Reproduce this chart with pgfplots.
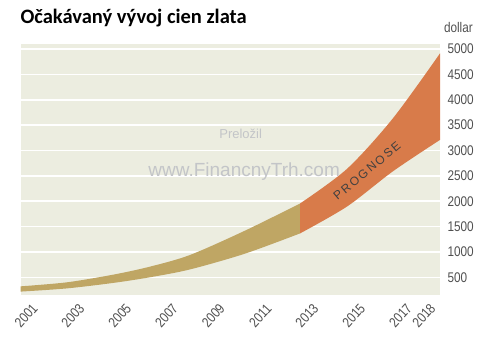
\documentclass[border=0pt]{standalone}
\usepackage{pgfplots}
\pgfplotsset{compat=1.18}
\usepgfplotslibrary{fillbetween}
\usepackage{fontspec}
\setmainfont{Liberation Sans}
\newfontfamily\titlefont{Carlito}
\newfontfamily\tickfont[FakeStretch=0.84]{Liberation Sans}
\definecolor{bgc}{RGB}{236,237,224}
\definecolor{goldc}{RGB}{191,166,100}
\definecolor{orangec}{RGB}{216,123,74}
\definecolor{tickc}{RGB}{80,80,80}
\definecolor{wmc}{RGB}{195,197,200}
\begin{document}
\begin{tikzpicture}
\node[anchor=west,font=\titlefont\bfseries\fontsize{20.5}{22}\selectfont] at (17pt,342pt) {Očakávaný vývoj cien zlata};
\node[anchor=east,font=\tickfont\fontsize{14}{16}\selectfont,text=tickc,inner sep=0pt] at (473pt,333pt) {dollar};
\begin{axis}[
  at={(20.7pt,65pt)}, anchor=south west,
  scale only axis, width=419.3pt, height=251pt,
  xmin=2000.3, xmax=2018.22, ymin=150, ymax=5100,
  axis line style={draw=none},
  axis background/.style={fill=bgc},
  major tick length=0pt,
  xtick={2001,2003,2005,2007,2009,2011,2013,2015,2017,2018},
  xticklabels={2001,2003,2005,2007,2009,2011,2013,2015,2017,2018},
  ytick={500,1000,1500,2000,2500,3000,3500,4000,4500,5000},
  yticklabels={500,1000,1500,2000,2500,3000,3500,4000,4500,5000},
  yticklabel pos=right,
  ymajorgrids, grid style={white,line width=1.5pt},
  x tick label style={font=\tickfont\fontsize{14}{16}\selectfont,text=tickc,xshift=-6pt,yshift=-6pt,rotate=48,anchor=north east,inner sep=1pt},
  y tick label style={font=\tickfont\fontsize{14}{16}\selectfont,text=tickc,anchor=west,xshift=4pt},
  clip=true,
]
\addplot[name path=gu, draw=none, smooth] coordinates {(2000.3,321)(2002.27,400)(2004.25,551)(2005.83,710)(2007.54,940)(2009.89,1420)(2012.24,1955)};
\addplot[name path=gl, draw=none, smooth] coordinates {(2000.3,217)(2002.27,280)(2004.25,388)(2005.83,500)(2007.54,655)(2009.89,966)(2012.24,1365)};
\addplot[fill=goldc, draw=none] fill between[of=gu and gl];
\addplot[name path=ou, draw=none, smooth] coordinates {(2012.24,1955)(2014.25,2640)(2016.21,3636)(2018.22,4915)};
\addplot[name path=ol, draw=none, smooth] coordinates {(2012.24,1365)(2014.25,1896)(2016.21,2590)(2018.22,3209)};
\addplot[fill=orangec, draw=none] fill between[of=ou and ol];
\node[text=wmc,font=\fontsize{13}{15}\selectfont] at (axis cs:2009.7,3320) {Preložil};
\node[text=wmc,font=\fontsize{19}{21}\selectfont] at (axis cs:2009.85,2590) {www.FinancnyTrh.com};
\node[text=black!75,rotate=40,font=\fontsize{12}{14}\selectfont] at (axis cs:2015.1,2600) {P\,R\,O\,G\,N\,O\,S\,E};
\end{axis}
\pgfresetboundingbox
\path[use as bounding box] (0pt,0pt) rectangle (480pt,360pt);
\end{tikzpicture}
\end{document}
